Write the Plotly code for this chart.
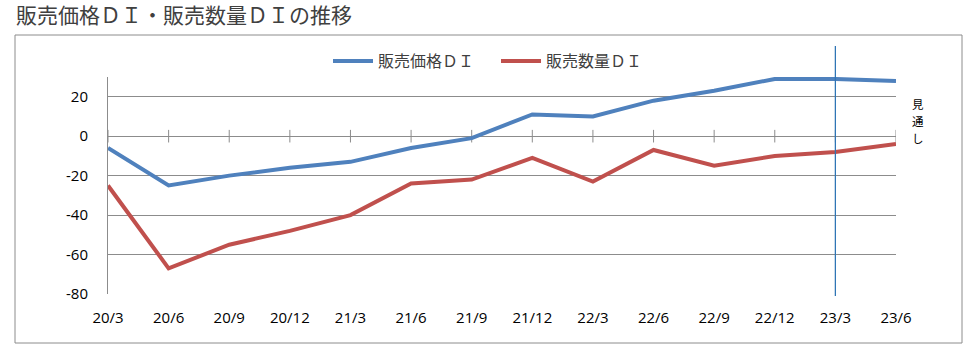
import plotly.graph_objects as go

categories = ["20/3", "20/6", "20/9", "20/12", "21/3", "21/6", "21/9",
              "21/12", "22/3", "22/6", "22/9", "22/12", "23/3", "23/6"]
price_di = [-6, -25, -20, -16, -13, -6, -1, 11, 10, 18, 23, 29, 29, 28]
quantity_di = [-25, -67, -55, -48, -40, -24, -22, -11, -23, -7, -15, -10, -8, -4]
forecast_start = "23/3"
forecast_label = "見通し"
y_ticks = [-80, -60, -40, -20, 0, 20]
y_tick_labels = ["-80", "-60", "-40", "-20", "0", "20"]

W, H = 975, 349
L, R, T, B = 108, 79, 77, 55
pw, ph = W - L - R, H - T - B

def px_x(p):
    return (p - L) / pw

def px_y(p):
    return (H - B - p) / ph

blue = "#4F81BD"
red = "#C0504D"
grid = "#8C8C8C"
font_jp = "Noto Sans CJK JP, Open Sans, sans-serif"
font_num = "Open Sans, sans-serif"

fig = go.Figure()

# cross tick marks on the zero axis line
fig.add_trace(go.Scatter(
    x=categories, y=[0] * len(categories), mode="markers",
    marker=dict(symbol="line-ns", size=9, line=dict(width=1, color=grid), color=grid),
    showlegend=False, hoverinfo="skip"))

fig.add_trace(go.Scatter(x=categories, y=price_di, mode="lines", name="販売価格ＤＩ",
                         line=dict(color=blue, width=4)))
fig.add_trace(go.Scatter(x=categories, y=quantity_di, mode="lines", name="販売数量ＤＩ",
                         line=dict(color=red, width=4)))

idx = categories.index(forecast_start)
fig.add_shape(type="line", xref="x", yref="paper", x0=idx, x1=idx,
              y0=px_y(296), y1=px_y(46), line=dict(color="#2F75B5", width=1.3))

# outer chart border
fig.add_shape(type="rect", xref="paper", yref="paper",
              x0=px_x(15), x1=px_x(962), y0=px_y(343), y1=px_y(35),
              line=dict(color="#8C8C8C", width=1), layer="below")

# vertical text, one character per line
for i, ch in enumerate(forecast_label):
    fig.add_annotation(xref="paper", yref="paper", x=px_x(917.5), y=px_y(104 + 17 * i),
                       text=ch, showarrow=False,
                       font=dict(family=font_jp, size=11.5, color="#000000"),
                       xanchor="center", yanchor="middle")

fig.update_layout(
    width=W, height=H,
    margin=dict(l=L, r=R, t=T, b=B, pad=0),
    paper_bgcolor="white", plot_bgcolor="white",
    title=dict(text="販売価格ＤＩ・販売数量ＤＩの推移", xref="container", yref="container",
               x=16 / W, xanchor="left", y=1 - 16 / H, yanchor="middle",
               font=dict(family=font_jp, size=21, color="#404040")),
    legend=dict(orientation="h", xref="paper", yref="paper",
                x=px_x(328), xanchor="left", y=px_y(61), yanchor="middle",
                font=dict(family=font_jp, size=16, color="#404040"),
                itemwidth=40, entrywidth=113, entrywidthmode="pixels",
                tracegroupgap=0, bgcolor="rgba(0,0,0,0)"),
    xaxis=dict(type="category", categoryorder="array", categoryarray=categories,
               range=[0, len(categories) - 1], showgrid=False, zeroline=False,
               showline=False, ticks="", ticklabelstandoff=13,
               tickfont=dict(family=font_num, size=15, color="#000000")),
    yaxis=dict(range=[-80, 30], tickvals=y_ticks, ticktext=y_tick_labels,
               showgrid=True, gridcolor=grid,
               gridwidth=1, zeroline=True, zerolinecolor=grid, zerolinewidth=1,
               showline=True, linecolor=grid, linewidth=1, ticks="",
               ticklabelstandoff=16,
               tickfont=dict(family=font_num, size=15, color="#000000")),
)

fig.write_html("out.html")
